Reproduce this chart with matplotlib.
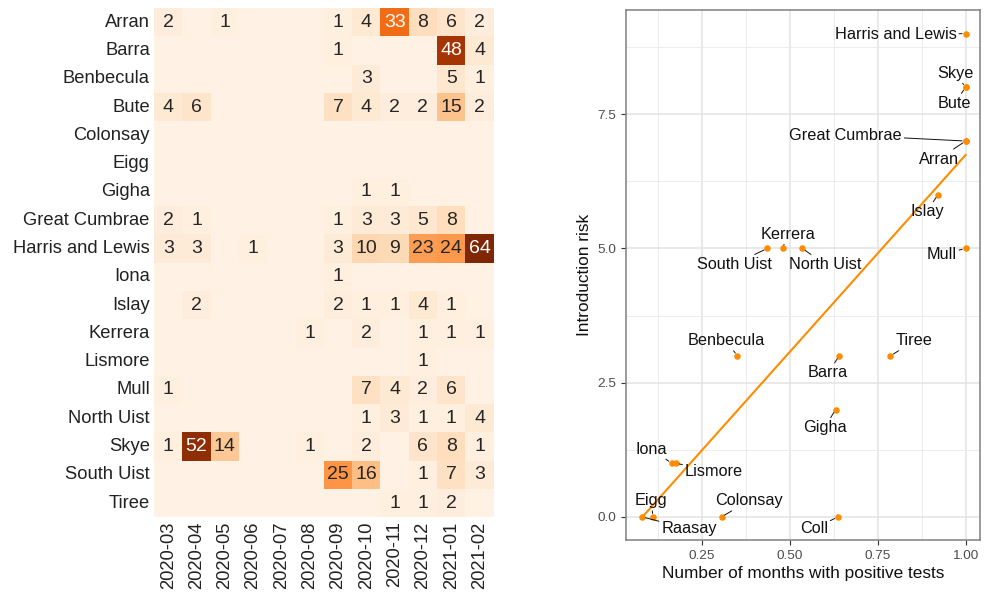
import numpy as np
import matplotlib
matplotlib.use("Agg")
import matplotlib.pyplot as plt
import seaborn as sns
from matplotlib.colors import Normalize

plt.rcParams['font.family'] = ['Liberation Sans', 'DejaVu Sans']

# Positive tests per island and month
islands = ["Arran", "Barra", "Benbecula", "Bute", "Colonsay", "Eigg", "Gigha",
           "Great Cumbrae", "Harris and Lewis", "Iona", "Islay", "Kerrera",
           "Lismore", "Mull", "North Uist", "Skye", "South Uist", "Tiree"]
months = ["2020-03", "2020-04", "2020-05", "2020-06", "2020-07", "2020-08",
          "2020-09", "2020-10", "2020-11", "2020-12", "2021-01", "2021-02"]
counts = np.array([
    [2, 0, 1, 0, 0, 0, 1, 4, 33, 8, 6, 2],
    [0, 0, 0, 0, 0, 0, 1, 0, 0, 0, 48, 4],
    [0, 0, 0, 0, 0, 0, 0, 3, 0, 0, 5, 1],
    [4, 6, 0, 0, 0, 0, 7, 4, 2, 2, 15, 2],
    [0, 0, 0, 0, 0, 0, 0, 0, 0, 0, 0, 0],
    [0, 0, 0, 0, 0, 0, 0, 0, 0, 0, 0, 0],
    [0, 0, 0, 0, 0, 0, 0, 1, 1, 0, 0, 0],
    [2, 1, 0, 0, 0, 0, 1, 3, 3, 5, 8, 0],
    [3, 3, 0, 1, 0, 0, 3, 10, 9, 23, 24, 64],
    [0, 0, 0, 0, 0, 0, 1, 0, 0, 0, 0, 0],
    [0, 2, 0, 0, 0, 0, 2, 1, 1, 4, 1, 0],
    [0, 0, 0, 0, 0, 1, 0, 2, 0, 1, 1, 1],
    [0, 0, 0, 0, 0, 0, 0, 0, 0, 1, 0, 0],
    [1, 0, 0, 0, 0, 0, 0, 7, 4, 2, 6, 0],
    [0, 0, 0, 0, 0, 0, 0, 1, 3, 1, 1, 4],
    [1, 52, 14, 0, 0, 1, 0, 2, 0, 6, 8, 1],
    [0, 0, 0, 0, 0, 0, 25, 16, 0, 1, 7, 3],
    [0, 0, 0, 0, 0, 0, 0, 0, 1, 1, 2, 0],
])

# Introduction risk against share of months with positive tests
risk_names = ["Harris and Lewis", "Skye", "Bute", "Great Cumbrae", "Arran",
              "Islay", "Mull", "South Uist", "Kerrera", "North Uist",
              "Benbecula", "Barra", "Tiree", "Gigha", "Iona", "Lismore",
              "Eigg", "Raasay", "Colonsay", "Coll"]
months_pos = [1.0, 1.0, 1.0, 1.0, 1.0, 0.921, 1.0, 0.435, 0.479, 0.535,
              0.350, 0.640, 0.786, 0.630, 0.163, 0.175, 0.110, 0.079, 0.305, 0.636]
risk = [9, 8, 8, 7, 7, 6, 5, 5, 5, 5, 3, 3, 3, 2, 1, 1, 0, 0, 0, 0]

# label placement (pixel offsets from each point)
label_offsets = {
    "Harris and Lewis": (-70, -1), "Skye": (-10, 14), "Bute": (-11, -16),
    "Great Cumbrae": (-120, 6), "Arran": (-27, -18), "Islay": (-11, -17),
    "Mull": (-24, -6), "South Uist": (-33, -16), "Kerrera": (5, 14),
    "North Uist": (23, -16), "Benbecula": (-11, 15), "Barra": (-11, -17),
    "Tiree": (24, 15), "Gigha": (-11, -18), "Iona": (-20, 14),
    "Lismore": (38, -8), "Eigg": (-2, 16), "Raasay": (47, -12),
    "Colonsay": (27, 16), "Coll": (-24, -12),
}

fig = plt.figure(figsize=(9.86, 5.95), dpi=100)

# heatmap
ax1 = fig.add_axes([0.1562, 0.1306, 0.3445, 0.856])
annot = np.where(counts > 0, counts.astype(str), "")
sns.heatmap(counts, ax=ax1, cmap="Oranges", norm=Normalize(vmin=-2, vmax=55),
            annot=annot, fmt="", cbar=False,
            annot_kws={"fontsize": 14},
            xticklabels=months, yticklabels=islands)
ax1.tick_params(axis="both", length=0, labelsize=13.2, colors="#222222", pad=3)
ax1.set_yticklabels(islands, rotation=0)
ax1.set_xticklabels(months, rotation=90)
ax1.set_xlabel("")
ax1.set_ylabel("")

# scatter with fitted line
ax2 = fig.add_axes([0.6349, 0.0924, 0.359, 0.8908])
orange = "#FF8C00"
ax2.set_xlim(0.033, 1.041)
ax2.set_ylim(-0.43, 9.44)
ax2.set_xticks([0.25, 0.5, 0.75, 1.0])
ax2.set_xticklabels(["0.25", "0.50", "0.75", "1.00"])
ax2.set_yticks([0, 2.5, 5, 7.5])
ax2.set_yticklabels(["0.0", "2.5", "5.0", "7.5"])
ax2.set_xticks([0.125, 0.375, 0.625, 0.875], minor=True)
ax2.set_yticks([1.25, 3.75, 6.25, 8.75], minor=True)
ax2.grid(which="major", color="#e3e3e3", linewidth=1.1)
ax2.grid(which="minor", color="#ececec", linewidth=0.7)
ax2.set_axisbelow(True)
for sp in ax2.spines.values():
    sp.set_color("#808080")
    sp.set_linewidth(1.1)
ax2.tick_params(which="major", length=3.5, color="#333333", width=0.8,
                labelsize=9.7, labelcolor="#4d4d4d")
ax2.tick_params(which="minor", length=0)

xs = np.array(months_pos)
ys = np.array(risk)
slope, intercept = np.polyfit(xs, ys, 1)
xl = np.array([xs.min(), xs.max()])
ax2.plot(xl, slope * xl + intercept, color=orange, linewidth=1.5, zorder=2)
ax2.scatter(xs, ys, s=22, color=orange, zorder=3, linewidths=0)

for name, x, y in zip(risk_names, xs, ys):
    dx, dy = label_offsets[name]
    ax2.annotate(name, xy=(x, y), xytext=(dx, dy), textcoords="offset pixels",
                 ha="center", va="center", fontsize=11.7, color="#111111",
                 bbox=dict(boxstyle="square,pad=0.15", fc="none", ec="none"),
                 arrowprops=dict(arrowstyle="-", color="#111111", lw=0.7,
                                 shrinkA=0, shrinkB=2.5),
                 zorder=4)

ax2.set_xlabel("Number of months with positive tests", fontsize=12.4,
               color="#111111", labelpad=3)
ax2.set_ylabel("Introduction risk", fontsize=12.4, color="#111111", labelpad=4)

fig.savefig("out.png", dpi=100)
